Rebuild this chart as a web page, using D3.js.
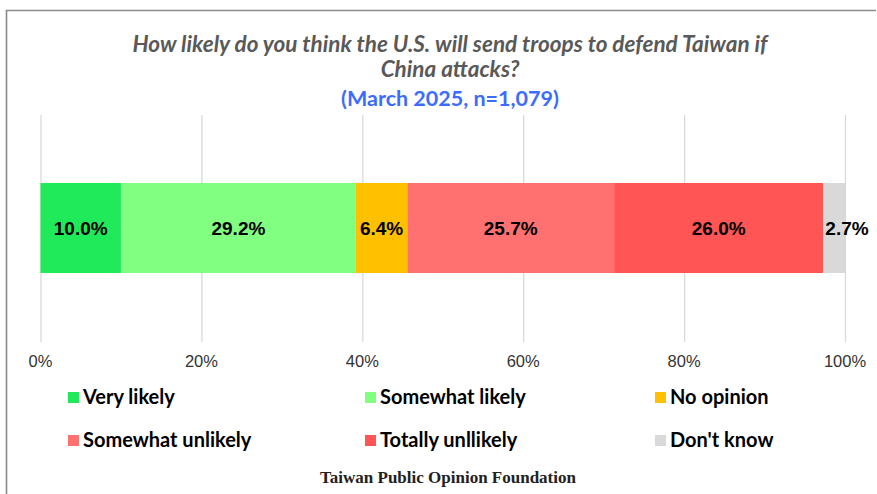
<!DOCTYPE html>
<html>
<head>
<meta charset="utf-8">
<script src="https://cdn.jsdelivr.net/npm/d3@7"></script>
<style>
  body { margin: 0; background: #fff; }
  svg { display: block; }
</style>
</head>
<body>
<div id="chart"></div>
<script>
const categories = ['Very likely', 'Somewhat likely', 'No opinion', 'Somewhat unlikely', 'Totally unllikely', "Don't know"];
const values = [10.0, 29.2, 6.4, 25.7, 26.0, 2.7];
const colors = ['#20EA5A', '#80FF80', '#FFC000', '#FF7171', '#FF5555', '#D9D9D9'];
const tickValues = [0, 20, 40, 60, 80, 100];

const width = 877;
const height = 494;

const svg = d3.select('#chart')
    .append('svg')
    .attr('width', width)
    .attr('height', height);

// frame (only top and left edges show)
svg.append('path')
    .attr('d', `M6.5,494 V10.5 H876`)
    .attr('fill', 'none')
    .attr('stroke', '#8a8a8a')
    .attr('stroke-width', 1.6);

// title
const title = svg.append('g')
    .attr('font-family', 'Lato, "Open Sans", sans-serif')
    .attr('text-anchor', 'middle');
title.append('text')
    .attr('x', 450).attr('y', 52)
    .attr('font-size', 22.5).attr('font-weight', 'bold').attr('font-style', 'italic')
    .attr('fill', '#595959')
    .text('How likely do you think the U.S. will send troops to defend Taiwan if');
title.append('text')
    .attr('x', 450).attr('y', 77)
    .attr('font-size', 22.5).attr('font-weight', 'bold').attr('font-style', 'italic')
    .attr('fill', '#595959')
    .text('China attacks?');
title.append('text')
    .attr('x', 450).attr('y', 106)
    .attr('font-size', 21.5).attr('font-weight', 'bold')
    .attr('fill', '#3B6CFF')
    .text('(March 2025, n=1,079)');

const x = d3.scaleLinear()
    .domain([0, 100])
    .range([40.5, 845]);

// gridlines
svg.append('g')
    .attr('transform', 'translate(0,342)')
    .call(d3.axisBottom(x).tickValues(tickValues).tickFormat('').tickSize(-227).tickSizeOuter(0))
    .call(g => g.select('.domain').remove())
    .call(g => g.selectAll('line').attr('stroke', '#d9d9d9').attr('stroke-width', 1.3));

// tick labels
svg.append('g')
    .selectAll('text')
    .data(tickValues)
    .join('text')
    .attr('x', d => x(d))
    .attr('y', 367)
    .attr('text-anchor', 'middle')
    .attr('font-family', 'Arial, "Liberation Sans", sans-serif')
    .attr('font-size', 16.5)
    .attr('fill', '#333')
    .text(d => d + '%');

// stacked segments
const stacked = [];
let acc = 0;
values.forEach((v, i) => {
    stacked.push({ name: categories[i], value: v, x0: acc, x1: acc + v, color: colors[i] });
    acc += v;
});

const barY = 183, barH = 90;
svg.append('g')
    .selectAll('rect')
    .data(stacked)
    .join('rect')
    .attr('x', d => x(d.x0))
    .attr('y', barY)
    .attr('width', d => x(d.x1) - x(d.x0))
    .attr('height', barH)
    .attr('fill', d => d.color);

svg.append('g')
    .selectAll('text')
    .data(stacked)
    .join('text')
    .attr('x', (d, i) => i === stacked.length - 1 ? x(d.x1) + 2 : (x(d.x0) + x(d.x1)) / 2)
    .attr('y', 235)
    .attr('text-anchor', 'middle')
    .attr('font-family', 'Arial, "Liberation Sans", sans-serif')
    .attr('font-size', 19)
    .attr('font-weight', 'bold')
    .attr('fill', '#000')
    .text(d => d.value.toFixed(1) + '%');

// legend
const legendX = [68, 365, 655];
const legendY = [397, 440];
const legend = svg.append('g')
    .selectAll('g')
    .data(categories)
    .join('g')
    .attr('transform', (d, i) => `translate(${legendX[i % 3]},${legendY[Math.floor(i / 3)]})`);
legend.append('rect')
    .attr('x', 0).attr('y', -5)
    .attr('width', 11).attr('height', 11)
    .attr('fill', (d, i) => colors[i]);
legend.append('text')
    .attr('x', 15).attr('y', 7)
    .attr('font-family', 'Lato, "Open Sans", sans-serif')
    .attr('font-size', 20)
    .attr('font-weight', 'bold')
    .attr('fill', '#000')
    .text(d => d);

// footer
svg.append('text')
    .attr('x', 448).attr('y', 483)
    .attr('text-anchor', 'middle')
    .attr('font-family', '"Liberation Serif", "DejaVu Serif", serif')
    .attr('font-size', 17)
    .attr('font-weight', 'bold')
    .attr('fill', '#222')
    .text('Taiwan Public Opinion Foundation');
</script>
</body>
</html>
